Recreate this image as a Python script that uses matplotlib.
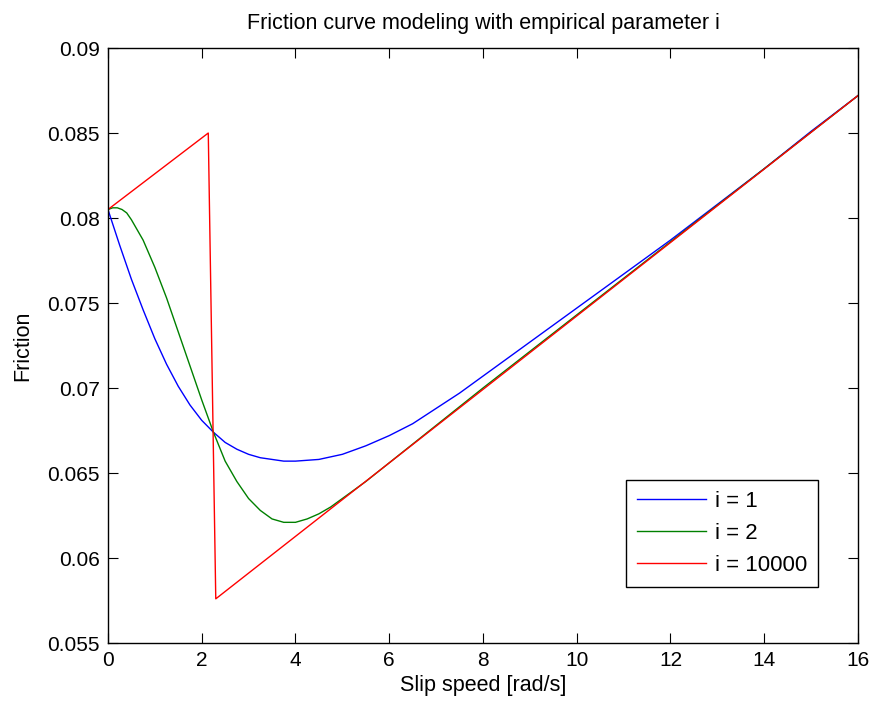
import numpy as np
import matplotlib
matplotlib.use("Agg")
import matplotlib.pyplot as plt
from matplotlib.ticker import FuncFormatter

# slip speed samples and friction values
x_i1 = [0, 0.25, 0.5, 0.75, 1.0, 1.25, 1.5, 1.75, 2.0, 2.25, 2.5, 2.75, 3.0, 3.25,
        3.5, 3.75, 4.0, 4.5, 5.0, 5.5, 6.0, 6.5, 7.0, 7.5, 8.0, 8.5, 9.0, 9.5,
        10.0, 10.5, 11.0, 11.5, 12.0, 13.0, 14.0, 15.0, 16.0]
f_i1 = [0.0805, 0.0784, 0.0764, 0.0746, 0.0729, 0.0714, 0.0701, 0.0690, 0.0681,
        0.0674, 0.0668, 0.0664, 0.0661, 0.0659, 0.0658, 0.0657, 0.0657, 0.0658,
        0.0661, 0.0666, 0.0672, 0.0679, 0.0688, 0.0697, 0.0707, 0.0717, 0.0727,
        0.0737, 0.0747, 0.0757, 0.0767, 0.0777, 0.0787, 0.0808, 0.0829, 0.0851,
        0.0872]

x_i2 = [0, 0.1, 0.2, 0.3, 0.4, 0.5, 0.75, 1.0, 1.25, 1.5, 1.75, 2.0, 2.25, 2.5,
        2.75, 3.0, 3.25, 3.5, 3.75, 4.0, 4.25, 4.5, 4.75, 5.0, 5.5, 6.0, 6.5, 7.0,
        8.0, 10.0, 12.0, 14.0, 16.0]
f_i2 = [0.0805, 0.0806, 0.0806, 0.0805, 0.0803, 0.0799, 0.0787, 0.0771, 0.0753,
        0.0733, 0.0713, 0.0693, 0.0674, 0.0657, 0.0645, 0.0635, 0.0628, 0.0623,
        0.0621, 0.0621, 0.0623, 0.0626, 0.0630, 0.0635, 0.0645, 0.0656, 0.0667,
        0.0678, 0.0700, 0.0743, 0.0786, 0.0829, 0.0872]

x_i10000 = [0, 2.14, 2.30, 16.0]
f_i10000 = [0.0805, 0.0850, 0.0576, 0.0872]

labels = ['i = 1', 'i = 2', 'i = 10000']

plt.rcParams['font.family'] = ['Liberation Sans', 'DejaVu Sans']

fig = plt.figure(figsize=(8.77, 7.04), dpi=100)
ax = fig.add_axes([0.1231, 0.0866, 0.8552, 0.8452])

ax.plot(x_i1, f_i1, color=(0, 0, 1), lw=1.0, label=labels[0])
ax.plot(x_i2, f_i2, color=(0, 0.5, 0), lw=1.0, label=labels[1])
ax.plot(x_i10000, f_i10000, color=(1, 0, 0), lw=1.0, label=labels[2])

ax.set_xlim(0, 16)
ax.set_ylim(0.055, 0.09)
ax.set_xticks(np.arange(0, 17, 2))
ax.set_yticks(np.arange(0.055, 0.0901, 0.005))
ax.yaxis.set_major_formatter(FuncFormatter(lambda v, p: '%g' % round(v, 3)))
ax.tick_params(direction='in', length=7, width=0.8, top=True, right=True,
               labelsize=15, pad=6, colors='black')
for s in ax.spines.values():
    s.set_linewidth(1.0)

ax.set_title('Friction curve modeling with empirical parameter i', fontsize=15.5, pad=14)
ax.set_xlabel('Slip speed [rad/s]', fontsize=15.5, labelpad=3)
ax.set_ylabel('Friction', fontsize=15.5, labelpad=10)

leg = ax.legend(loc='lower right', bbox_to_anchor=(0.9467, 0.0941),
                borderaxespad=0, fontsize=16, fancybox=False, framealpha=1,
                edgecolor='black', handlelength=3.1, handletextpad=0.4,
                labelspacing=0.5, borderpad=0.5)
leg.get_frame().set_linewidth(1.0)

fig.savefig('out.png', dpi=100)
